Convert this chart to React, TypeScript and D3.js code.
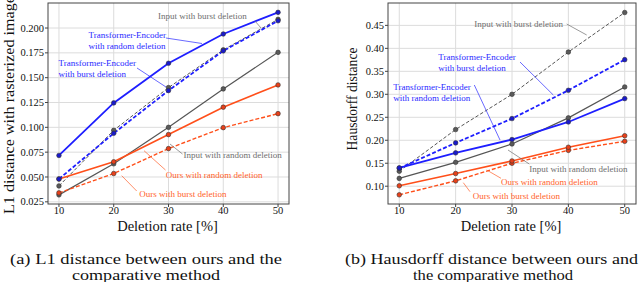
import React from "react";
import * as d3 from "d3";

const rates = [10, 20, 30, 40, 50];

// (a) L1 distance
const l1TeRandom = [0.0717, 0.1246, 0.1645, 0.194, 0.2158];
const l1TeBurst = [0.048, 0.094, 0.137, 0.177, 0.2073];
const l1InputBurst = [0.041, 0.097, 0.14, 0.178, 0.2087];
const l1InputRandom = [0.032, 0.0633, 0.1, 0.1387, 0.1755];
const l1OursRandom = [0.048, 0.0653, 0.0927, 0.1203, 0.1427];
const l1OursBurst = [0.034, 0.0535, 0.0786, 0.0997, 0.1138];
const l1Ticks = [0.025, 0.05, 0.075, 0.1, 0.125, 0.15, 0.175, 0.2];

// (b) Hausdorff distance
const hdInputBurst = [0.1326, 0.2233, 0.3, 0.392, 0.478];
const hdTeBurst = [0.139, 0.1943, 0.2472, 0.3087, 0.3754];
const hdTeRandom = [0.14, 0.1726, 0.2015, 0.2398, 0.2907];
const hdInputRandom = [0.117, 0.152, 0.192, 0.2487, 0.316];
const hdOursRandom = [0.1009, 0.1276, 0.155, 0.1848, 0.2099];
const hdOursBurst = [0.0813, 0.1117, 0.15, 0.178, 0.1977];
const hdTicks = [0.1, 0.15, 0.2, 0.25, 0.3, 0.35, 0.4, 0.45];

const BLUE = "#1e1eff";
const BLUE_T = "#2a2aff";
const GRAY = "#555555";
const GRAY_T = "#6e6e6e";
const ORANGE = "#ff4f1a";
const ORANGE_T = "#ff5f2a";

const FS = { fontFamily: "Liberation Serif" };

type Style = { color: string; width: number; dash?: string; mfill: string };
const sInputBurst: Style = { color: GRAY, width: 1, dash: "3.5,2", mfill: "#5a5a5a" };
const sInputRandom: Style = { color: GRAY, width: 1.2, mfill: "#5a5a5a" };
const sTeRandom: Style = { color: BLUE, width: 1.8, mfill: "#1a1acc" };
const sTeBurst: Style = { color: BLUE, width: 1.8, dash: "4,2", mfill: "#1a1acc" };
const sOursRandom: Style = { color: ORANGE, width: 1.6, mfill: "#e8401a" };
const sOursBurst: Style = { color: ORANGE, width: 1.4, dash: "4,2", mfill: "#e8401a" };

type Ann = { lines: string[]; x: number; y: number; color: string; lead: number[] };

function Panel(props: {
  x0: number; x1: number; yDomain: [number, number];
  ticks: number[]; fmt: (v: number) => string;
  series: { values: number[]; style: Style }[];
  anns: Ann[];
}) {
  const { x0, x1, yDomain, ticks, fmt, series, anns } = props;
  const x = d3.scaleLinear().domain([8, 52]).range([x0, x1]);
  const y = d3.scaleLinear().domain(yDomain).range([204, 3]);
  const line = d3
    .line<number>()
    .x((_, i) => x(rates[i]))
    .y((v) => y(v));
  return (
    <g>
      {rates.map((r) => (
        <line key={"gx" + r} x1={x(r)} x2={x(r)} y1={3} y2={204} stroke="#dcdcdc" strokeWidth={1} />
      ))}
      {ticks.map((t) => (
        <line key={"gy" + t} x1={x0} x2={x1} y1={y(t)} y2={y(t)} stroke="#dcdcdc" strokeWidth={1} />
      ))}
      {series.map((s, i) => (
        <path
          key={"l" + i}
          d={line(s.values) || ""}
          fill="none"
          stroke={s.style.color}
          strokeWidth={s.style.width}
          strokeDasharray={s.style.dash}
        />
      ))}
      {series.map((s, i) =>
        s.values.map((v, j) => (
          <circle
            key={"m" + i + "-" + j}
            cx={x(rates[j])}
            cy={y(v)}
            r={2.3}
            fill={s.style.mfill}
            stroke="#333"
            strokeWidth={0.6}
          />
        ))
      )}
      {anns.map((a, i) => (
        <g key={"a" + i}>
          <line x1={a.lead[0]} y1={a.lead[1]} x2={a.lead[2]} y2={a.lead[3]} stroke={a.color} strokeWidth={0.7} />
          {a.lines.map((t, k) => (
            <text key={k} x={a.x} y={a.y + k * 11} fontSize={9} style={FS} fill={a.color}>
              {t}
            </text>
          ))}
        </g>
      ))}
      <rect x={x0} y={3} width={x1 - x0} height={201} fill="none" stroke="#444" strokeWidth={1} />
      {ticks.map((t) => (
        <g key={"ty" + t}>
          <line x1={x0 - 3} x2={x0} y1={y(t)} y2={y(t)} stroke="#444" strokeWidth={1} />
          <text x={x0 - 4} y={y(t) + 3.6} fontSize={10.5} style={FS} textAnchor="end" fill="#111">
            {fmt(t)}
          </text>
        </g>
      ))}
      {rates.map((r) => (
        <g key={"tx" + r}>
          <line x1={x(r)} x2={x(r)} y1={204} y2={207} stroke="#444" strokeWidth={1} />
          <text x={x(r)} y={214} fontSize={10.5} style={FS} textAnchor="middle" fill="#111">
            {r}
          </text>
        </g>
      ))}
      <text x={(x0 + x1) / 2 - 1} y={231} fontSize={14.5} style={FS} textAnchor="middle" fill="#111">
        Deletion rate [%]
      </text>
    </g>
  );
}

export default function App() {
  const f3 = d3.format(".3f");
  const f2 = d3.format(".2f");
  const leftAnns: Ann[] = [
    { lines: ["Input with burst deletion"], x: 158, y: 19.3, color: GRAY_T, lead: [255, 21, 261, 28] },
    { lines: ["Transformer-Encoder", "with random deletion"], x: 88.5, y: 37.5, color: BLUE_T, lead: [166, 38, 202, 43.5] },
    { lines: ["Transformer-Encoder", "with burst deletion"], x: 58.5, y: 66, color: BLUE_T, lead: [137, 68, 166, 87] },
    { lines: ["Input with random deletion"], x: 183.5, y: 158.3, color: GRAY_T, lead: [182.5, 154, 170, 144] },
    { lines: ["Ours with random deletion"], x: 165.7, y: 177.5, color: ORANGE_T, lead: [165.5, 170, 144, 150.7] },
    { lines: ["Ours with burst deletion"], x: 139.3, y: 197.3, color: ORANGE_T, lead: [136.7, 191, 121.7, 175.7] },
  ];
  const rightAnns: Ann[] = [
    { lines: ["Input with burst deletion"], x: 474.3, y: 26.7, color: GRAY_T, lead: [566.7, 24, 586.7, 35] },
    { lines: ["Transformer-Encoder", "with burst deletion"], x: 438.3, y: 60, color: BLUE_T, lead: [520, 62, 553.3, 95] },
    { lines: ["Transformer-Encoder", "with random deletion"], x: 393.3, y: 90, color: BLUE_T, lead: [474.3, 85, 500, 140] },
    { lines: ["Input with random deletion"], x: 529.3, y: 171.5, color: GRAY_T, lead: [529.3, 164, 508, 150] },
    { lines: ["Ours with random deletion"], x: 501, y: 185, color: ORANGE_T, lead: [501, 178.3, 486.7, 170] },
    { lines: ["Ours with burst deletion"], x: 472.7, y: 199, color: ORANGE_T, lead: [470, 191.7, 463.3, 182.7] },
  ];
  return (
    <svg width={640} height={282} style={{ position: "absolute", left: 0, top: 0, background: "#fff" }}>
      <rect x={0} y={0} width={640} height={282} fill="#fff" />
      <Panel
        x0={48}
        x1={289}
        yDomain={[0.0228, 0.2252]}
        ticks={l1Ticks}
        fmt={f3}
        series={[
          { values: l1InputRandom, style: sInputRandom },
          { values: l1InputBurst, style: sInputBurst },
          { values: l1OursBurst, style: sOursBurst },
          { values: l1OursRandom, style: sOursRandom },
          { values: l1TeBurst, style: sTeBurst },
          { values: l1TeRandom, style: sTeRandom },
        ]}
        anns={leftAnns}
      />
      <Panel
        x0={388}
        x1={636}
        yDomain={[0.0613, 0.4987]}
        ticks={hdTicks}
        fmt={f2}
        series={[
          { values: hdInputRandom, style: sInputRandom },
          { values: hdInputBurst, style: sInputBurst },
          { values: hdOursBurst, style: sOursBurst },
          { values: hdOursRandom, style: sOursRandom },
          { values: hdTeBurst, style: sTeBurst },
          { values: hdTeRandom, style: sTeRandom },
        ]}
        anns={rightAnns}
      />
      <text
        transform="translate(13.5,214) rotate(-90)"
        fontSize={15}
        style={FS}
        fill="#111"
        textLength={218}
        lengthAdjust="spacingAndGlyphs"
      >
        L1 distance with rasterized image
      </text>
      <text
        transform="translate(357,150.5) rotate(-90)"
        fontSize={14}
        style={FS}
        fill="#111"
        textLength={103}
        lengthAdjust="spacingAndGlyphs"
      >
        Hausdorff distance
      </text>
      <text x={10} y={264} fontSize={15.5} style={FS} fill="#111" textLength={272} lengthAdjust="spacingAndGlyphs">
        (a) L1 distance between ours and the
      </text>
      <text x={72} y={280} fontSize={15.5} style={FS} fill="#111" textLength={148} lengthAdjust="spacingAndGlyphs">
        comparative method
      </text>
      <text x={345} y={264} fontSize={15.5} style={FS} fill="#111" textLength={293} lengthAdjust="spacingAndGlyphs">
        (b) Hausdorff distance between ours and
      </text>
      <text x={413} y={280} fontSize={15.5} style={FS} fill="#111" textLength={160} lengthAdjust="spacingAndGlyphs">
        the comparative method
      </text>
    </svg>
  );
}
